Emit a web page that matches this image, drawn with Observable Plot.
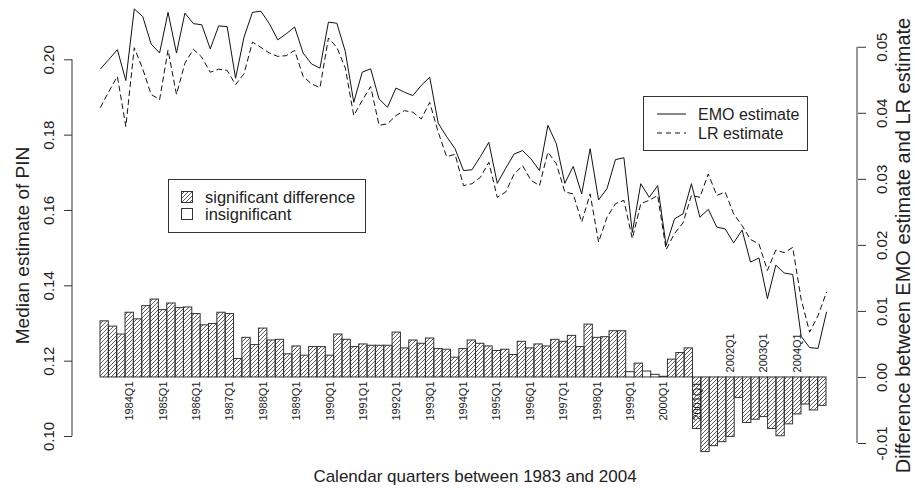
<!DOCTYPE html>
<html><head><meta charset="utf-8">
<script src="https://cdn.jsdelivr.net/npm/d3@7"></script>
<script src="https://cdn.jsdelivr.net/npm/@observablehq/plot@0.6"></script>
<style>
body{margin:0;background:#fff;}
#chart{width:915px;height:490px;}
</style></head><body>
<svg width="0" height="0" style="position:absolute">
<defs><pattern id="hatch" patternUnits="userSpaceOnUse" width="4" height="4">
<path d="M-1,1 L1,-1 M0,4 L4,0 M3,5 L5,3" stroke="#333" stroke-width="0.8"/>
</pattern></defs></svg>
<div id="chart"></div>
<script>
// ---- data ----
const firstYear = 1983, firstQ = 2, nQuarters = 87;
const quarters = [];
for (let k = 0; k < nQuarters; k++) {
  const t = (firstQ - 1) + k;
  quarters.push(`${firstYear + Math.floor(t / 4)}Q${(t % 4) + 1}`);
}
const emo = [
0.1976,0.2001,0.2027,0.1945,0.2135,0.2115,0.2042,0.2018,0.2126,0.2018,
0.2124,0.2096,0.2093,0.2029,0.2090,0.2088,0.1951,0.2060,0.2126,0.2129,
0.2096,0.2053,0.2069,0.2087,0.2018,0.1989,0.1978,0.2100,0.2097,0.2022,
0.1887,0.1967,0.1976,0.1896,0.1874,0.1925,0.1914,0.1905,0.1932,0.1954,
0.1832,0.1796,0.1764,0.1706,0.1708,0.1743,0.1781,0.1672,0.1712,0.1750,
0.1759,0.1737,0.1706,0.1826,0.1777,0.1672,0.1717,0.1644,0.1764,0.1628,
0.1658,0.1735,0.1740,0.1542,0.1671,0.1635,0.1666,0.1507,0.1578,0.1591,
0.1671,0.1582,0.1603,0.1556,0.1551,0.1514,0.1548,0.1463,0.1474,0.1366,
0.1455,0.1434,0.1430,0.1266,0.1236,0.1234,0.1330];
const lr = [
0.1874,0.1916,0.1956,0.1823,0.2032,0.1976,0.1908,0.1894,0.2026,0.1908,
0.1991,0.2028,0.2007,0.1967,0.1975,0.1972,0.1934,0.1963,0.2047,0.2033,
0.2018,0.2009,0.2011,0.2025,0.1956,0.1936,0.1926,0.2058,0.2033,0.1978,
0.1852,0.1892,0.1929,0.1826,0.1830,0.1852,0.1865,0.1861,0.1843,0.1887,
0.1808,0.1743,0.1749,0.1666,0.1671,0.1688,0.1728,0.1635,0.1649,0.1697,
0.1719,0.1680,0.1666,0.1755,0.1724,0.1649,0.1644,0.1569,0.1644,0.1516,
0.1582,0.1618,0.1627,0.1525,0.1618,0.1627,0.1640,0.1496,0.1539,0.1567,
0.1640,0.1635,0.1697,0.1640,0.1649,0.1591,0.1560,0.1523,0.1511,0.1441,
0.1495,0.1488,0.1502,0.1364,0.1277,0.1321,0.1383];
const diff = [
0.0085,0.0077,0.0065,0.0098,0.0088,0.0108,0.0118,0.0102,0.0112,0.0105,
0.0106,0.0096,0.0079,0.0081,0.0098,0.0096,0.0028,0.0060,0.0049,0.0074,
0.0056,0.0057,0.0035,0.0047,0.0033,0.0046,0.0046,0.0033,0.0065,0.0057,
0.0046,0.0050,0.0048,0.0048,0.0048,0.0068,0.0044,0.0056,0.0051,0.0059,
0.0043,0.0042,0.0030,0.0043,0.0056,0.0051,0.0047,0.0040,0.0042,0.0034,
0.0054,0.0044,0.0050,0.0047,0.0057,0.0054,0.0063,0.0046,0.0080,0.0060,
0.0061,0.0070,0.0070,0.0008,0.0021,0.0009,0.0004,0.0001,0.0027,0.0037,
0.0044,-0.0078,-0.0113,-0.0104,-0.0098,-0.0090,-0.0031,-0.0069,-0.0064,-0.0060,
-0.0078,-0.0089,-0.0071,-0.0056,-0.0041,-0.0050,-0.0043];
const insignificant = ["1999Q1","1999Q3","1999Q4","2000Q1"];
const labelsBelow = ["1984Q1","1985Q1","1986Q1","1987Q1","1988Q1","1989Q1","1990Q1","1991Q1","1992Q1",
  "1993Q1","1994Q1","1995Q1","1996Q1","1997Q1","1998Q1","1999Q1","2000Q1","2001Q1"];
const labelsAbove = ["2002Q1","2003Q1","2004Q1"];
const pinTicks = [0.10,0.12,0.14,0.16,0.18,0.20];
const diffTicks = [-0.01,0.00,0.01,0.02,0.03,0.04,0.05];

// ---- dual-axis mapping (both axes share the plot's vertical pixels) ----
const yPx = d3.scaleLinear([0.10, 0.20], [436, 59.3]);
const rPx = d3.scaleLinear([-0.01, 0.05], [443, 46.75]);
const diffToPin = d => yPx.invert(rPx(d));
const pinToDiff = p => rPx.invert(yPx(p));

const bars = quarters.map((q, i) => ({i, q, d: diff[i], sig: !insignificant.includes(q)}));
const pts = quarters.map((q, i) => ({i, q, emo: emo[i], lr: lr[i]}));
const lineX = d => d.i * nQuarters / (nQuarters - 1);
const below = bars.filter(b => labelsBelow.includes(b.q));
const above = bars.filter(b => labelsAbove.includes(b.q));
const font = "'Liberation Sans', Arial, Helvetica, sans-serif";
const base = diffToPin(0);

const chart = Plot.plot({
  width: 915, height: 490,
  marginLeft: 72, marginRight: 58, marginTop: 40, marginBottom: 40,
  style: {fontFamily: font, fontSize: "15px", color: "#222", background: "#fff"},
  x: {domain: [0, nQuarters], range: [100, 826], axis: null},
  y: {domain: [0.10, 0.20], range: [436, 59.3]},
  marks: [
    Plot.rect(bars.filter(b => b.sig), {x1: "i", x2: b => b.i + 1, y1: () => base, y2: b => diffToPin(b.d),
      fill: "url(#hatch)", stroke: "#333", strokeWidth: 1}),
    Plot.rect(bars.filter(b => !b.sig), {x1: "i", x2: b => b.i + 1, y1: () => base, y2: b => diffToPin(b.d),
      fill: "white", stroke: "#333", strokeWidth: 1}),
    Plot.line(pts, {x: lineX, y: "emo", stroke: "#111", strokeWidth: 1}),
    Plot.line(pts, {x: lineX, y: "lr", stroke: "#111", strokeWidth: 1, strokeDasharray: "5,4"}),
    Plot.axisY({anchor: "left", ticks: pinTicks, tickFormat: v => v.toFixed(2), tickSize: 8, tickPadding: 11,
      tickRotate: -90, label: null, fontSize: 15, stroke: "#333"}),
    Plot.axisY({anchor: "right", ticks: diffTicks.map(diffToPin),
      tickFormat: v => (Math.round(pinToDiff(v) * 100) / 100 + 0).toFixed(2),
      tickSize: 8, tickPadding: 11, tickRotate: -90, lineAnchor: "top", label: null, fontSize: 15, stroke: "#333"}),
    Plot.text(below, {x: b => b.i + 0.5, y: () => base, text: "q", rotate: -90, textAnchor: "end", dy: 4, fontSize: 11, fill: "#222"}),
    Plot.text(above, {x: b => b.i + 0.5, y: () => base, text: "q", rotate: -90, textAnchor: "start", dy: -5, fontSize: 11, fill: "#222"}),
    Plot.text(["Median estimate of PIN"], {frameAnchor: "left", textAnchor: "middle", dx: -50, rotate: -90, fontSize: 19, fill: "#222"}),
    Plot.text(["Difference between EMO estimate and LR estimate"], {frameAnchor: "right", textAnchor: "middle", dx: 46, rotate: -90, fontSize: 20, fill: "#222"}),
    Plot.text(["Calendar quarters between 1983 and 2004"], {frameAnchor: "bottom", textAnchor: "middle", dx: 10, dy: 31, fontSize: 17, fill: "#222"})
  ]
});
document.getElementById("chart").appendChild(chart);

// axis lines (R style: span first to last tick)
const svg = d3.select(chart);
const ys = chart.scale("y");
svg.append("line").attr("x1", 72).attr("x2", 72)
  .attr("y1", ys.apply(pinTicks[0])).attr("y2", ys.apply(pinTicks[pinTicks.length - 1])).attr("stroke", "#333");
svg.append("line").attr("x1", 857).attr("x2", 857)
  .attr("y1", ys.apply(diffToPin(diffTicks[0]))).attr("y2", ys.apply(diffToPin(diffTicks[diffTicks.length - 1]))).attr("stroke", "#333");

// legends
const lg1 = svg.append("g").attr("font-family", font).attr("font-size", 16.5).attr("fill", "#222").attr("text-anchor", "start");
lg1.append("rect").attr("x", 168.5).attr("y", 179.5).attr("width", 197).attr("height", 53).attr("fill", "white").attr("stroke", "#333");
lg1.append("rect").attr("x", 181.5).attr("y", 191.5).attr("width", 11).attr("height", 11).attr("fill", "url(#hatch)").attr("stroke", "#333");
lg1.append("rect").attr("x", 181.5).attr("y", 208.5).attr("width", 11).attr("height", 11).attr("fill", "white").attr("stroke", "#333");
lg1.append("text").attr("x", 205).attr("y", 197).attr("dy", "0.35em").text("significant difference");
lg1.append("text").attr("x", 205).attr("y", 214).attr("dy", "0.35em").text("insignificant");

const lg2 = svg.append("g").attr("font-family", font).attr("font-size", 16).attr("fill", "#222").attr("text-anchor", "start");
lg2.append("rect").attr("x", 643.5).attr("y", 96.5).attr("width", 164).attr("height", 54).attr("fill", "white").attr("stroke", "#333");
lg2.append("line").attr("x1", 657).attr("x2", 686).attr("y1", 114).attr("y2", 114).attr("stroke", "#111");
lg2.append("line").attr("x1", 657).attr("x2", 686).attr("y1", 133).attr("y2", 133).attr("stroke", "#111").attr("stroke-dasharray", "5,4");
lg2.append("text").attr("x", 698).attr("y", 114).attr("dy", "0.35em").text("EMO estimate");
lg2.append("text").attr("x", 698).attr("y", 133).attr("dy", "0.35em").text("LR estimate");
</script>
</body></html>
